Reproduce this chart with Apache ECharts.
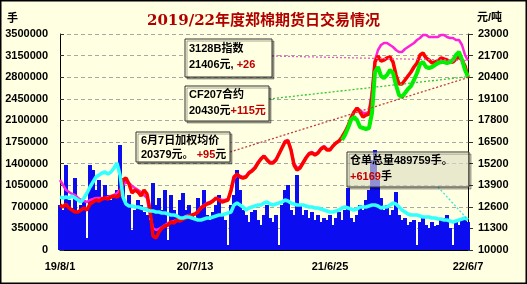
<!DOCTYPE html>
<html><head><meta charset="utf-8">
<script src="https://cdn.jsdelivr.net/npm/echarts/dist/echarts.min.js"></script>
<style>html,body{margin:0;padding:0;background:#ffffe1;}#c{width:527px;height:284px;}</style>
</head><body><div id="c"></div>
<script>
const tickLabels = ['19/8/1','20/7/13','21/6/25','22/6/7'];
const tickIndex = [0,45,90,136];
const leftAxis = {min:0, max:3500000, step:350000};
const rightAxis = {min:10000, max:23000, step:1300};

// 成交量 (bars, 手)
const volume = [729200,648200,1377300,810200,680600,1166700,615800,729200,810200,194400,
1377300,1296300,972200,1134300,810200,1053300,891200,810200,842600,972200,
1701400,1166700,729200,891200,324100,648200,810200,729200,615800,567100,
486100,1085700,729200,842600,648200,972200,162000,891200,648200,567100,
810200,923600,648200,729200,567100,518500,842600,648200,972200,567100,
486100,615800,729200,891200,567100,486100,81000,729200,891200,1296300,
972200,648200,567100,453700,615800,648200,486100,405100,567100,729200,
518500,453700,567100,81000,729200,972200,1053300,648200,567100,1215300,
729200,567100,648200,518500,615800,486100,567100,453700,518500,486100,
567100,405100,518500,615800,486100,648200,1004600,518500,453700,567100,
729200,648200,810200,972200,1458400,1620400,1134300,842600,648200,729200,
567100,648200,939800,567100,486100,518500,405100,453700,486100,81000,
453700,518500,405100,356500,453700,388900,405100,486100,518500,567100,
356500,81000,453700,405100,486100,518500,453700];

// 仓单总量 (cyan, 手)
const warehouse = [858800,842600,858800,842600,875000,842600,810200,777800,842600,923600,
1020800,1101900,1182900,1215300,1247700,1263900,1231500,1263900,1328700,1409700,
1215300,858800,745400,713000,713000,696800,696800,680600,664400,648200,
632000,632000,615800,615800,599500,599500,583300,567100,567100,550900,
518500,518500,534700,534700,518500,502300,486100,486100,502300,518500,
518500,534700,550900,567100,567100,583300,599500,615800,729200,761600,
729200,696800,648200,680600,696800,713000,729200,729200,761600,777800,
745400,729200,745400,761600,777800,810200,794000,761600,745400,729200,
729200,729200,713000,696800,696800,680600,680600,664400,648200,632000,
615800,615800,632000,648200,680600,696800,680600,664400,648200,664400,
696800,696800,696800,713000,729200,729200,713000,680600,696800,696800,
729200,761600,745400,696800,648200,615800,583300,567100,567100,567100,
550900,534700,534700,534700,518500,518500,502300,502300,486100,486100,
469900,453700,469900,486100,502300,518500,489759];

// 加权均价 (red, 元/吨)
const avgPrice = [12708,12588,12769,12528,12407,12287,12287,12407,12528,12407,
12769,12889,13009,12949,13069,13130,13069,13190,13250,13190,
13310,14213,14333,13972,13431,13611,13491,13250,13611,13370,
12407,10843,10722,11083,11324,11444,11505,11685,11625,11806,
11745,11866,11926,12046,12106,12167,12287,12528,12648,12769,
12829,12949,13130,13009,12889,12949,13009,13611,14394,14574,
14394,14333,14394,14634,14755,14935,15236,15477,15657,15417,
15236,15236,15417,15778,16139,16500,16560,16019,15116,14815,
14935,15236,15537,15778,15838,15718,15838,16079,16199,16019,
16019,16259,16440,16560,16801,17102,17463,17944,18306,18546,
18306,18005,18125,18185,19208,21315,21676,21375,21435,21556,
21616,21315,20532,19991,19991,20231,20472,20713,21014,21255,
21736,21856,21556,21435,21255,21315,21375,21556,21495,21435,
21315,21315,21495,21616,21435,21074,20379];

// 3128B指数 (magenta)
const index3128 = [14213,13912,13611,13491,13370,13310,13130,13009,12949,12889,
13009,13069,13130,13130,13130,13130,13190,13250,13310,13431,
13611,13912,14093,14032,13852,13731,13611,13491,13310,13130,
12106,11324,11204,11264,11384,11505,11625,11685,11745,11806,
11866,11926,12046,12106,12106,12167,12347,12588,12708,12829,
12889,13009,13069,13069,13009,13009,13069,13491,14273,14514,
14454,14394,14454,14694,14815,14995,15296,15537,15657,15477,
15296,15296,15477,15838,16199,16560,16620,16079,15236,14935,
14995,15296,15597,15838,15898,15778,15898,16139,16259,16079,
16079,16259,16440,16560,16741,17042,17403,17884,18306,18546,
18426,18245,18245,18306,19630,21435,22037,22338,22458,22458,
22338,22218,22037,21917,21917,22097,22218,22338,22458,22639,
22759,22940,22940,22819,22819,22819,22819,22940,22940,22819,
22759,22759,22639,22639,22338,21736,21406];

// CF207合约 (green), starts trading at category index cf207Start
const cf207Start = 94;
const cf207 = [16620,16921,17343,17824,18005,17824,17403,17343,17282,17343,
18245,20713,21014,20472,20352,20532,20833,20653,19931,19329,
19208,19449,19690,19870,20231,20653,21194,21315,21014,20954,
21014,21134,21255,21315,21315,21255,21315,21435,21736,21917,
21435,20833,20430];

const N = avgPrice.length;
const categories = [];
for (let i = 0; i < N; i++) {
  const k = tickIndex.indexOf(i);
  categories.push(k >= 0 ? tickLabels[k] : String(i));
}
const cf207Data = [];
for (let i = 0; i < N; i++) cf207Data.push(i < cf207Start ? null : cf207[i - cf207Start]);

const BG = '#ffffe1';
const labelFont = {color:'#000', fontWeight:'bold', fontSize:11, fontFamily:'"Liberation Sans", Arial, sans-serif'};

const chart = echarts.init(document.getElementById('c'), null, {renderer:'canvas'});
const option = {
  animation: false,
  backgroundColor: BG,
  title: {
    text: '2019/22年度郑棉期货日交易情况',
    left: 'center', top: 8,
    textStyle: {color:'#b00000', fontSize:15, fontWeight:'bold', fontFamily:'"DejaVu Serif", "Noto Sans CJK SC", serif', lineHeight:17}
  },
  grid: {left:60, right:59, top:34, bottom:34, containLabel:false, outerBoundsMode:'none'},
  xAxis: {
    type:'category', data:categories, boundaryGap:false,
    axisLine:{show:true, lineStyle:{color:'#000', width:1}},
    axisTick:{show:false},
    splitLine:{show:false},
    axisLabel:Object.assign({margin:11, interval:(i)=>tickIndex.indexOf(i) >= 0,
      formatter:(v)=>v}, labelFont)
  },
  yAxis: [{
    type:'value', min:leftAxis.min, max:leftAxis.max, interval:leftAxis.step, position:'left',
    axisLine:{show:true, lineStyle:{color:'#000', width:1}},
    axisTick:{show:true, inside:true, length:4, lineStyle:{color:'#333'}},
    splitLine:{show:true, lineStyle:{color:'#a8a8a8', type:[4,3], width:1}},
    axisLabel:Object.assign({margin:12, formatter:(v)=>String(Math.round(v))}, labelFont)
  },{
    type:'value', min:rightAxis.min, max:rightAxis.max, interval:rightAxis.step, position:'right',
    axisLine:{show:true, lineStyle:{color:'#000', width:1}},
    axisTick:{show:true, inside:false, length:5, lineStyle:{color:'#333'}},
    splitLine:{show:false},
    axisLabel:Object.assign({margin:10, formatter:(v)=>String(Math.round(v))}, labelFont)
  }],
  series: [
    {type:'bar', name:'成交量', yAxisIndex:0, data:volume, barWidth:4, barMinWidth:3, barGap:'0%',
     itemStyle:{color:'#0c0cf0'}, z:1},
    {type:'line', name:'3128B指数', yAxisIndex:1, data:index3128, showSymbol:false, symbol:'none',
     lineStyle:{color:'#ff22dd', width:2.5}, z:3},
    {type:'line', name:'加权均价', yAxisIndex:1, data:avgPrice, showSymbol:false, symbol:'none',
     lineStyle:{color:'#ff0000', width:3.5}, z:4},
    {type:'line', name:'CF207', yAxisIndex:1, data:cf207Data, showSymbol:false, symbol:'none', connectNulls:false,
     lineStyle:{color:'#00f000', width:4}, z:5},
    {type:'line', name:'仓单总量', yAxisIndex:0, data:warehouse, showSymbol:false, symbol:'none',
     lineStyle:{color:'#33ffff', width:3.5}, z:6}
  ]
};
chart.setOption(option);

const last = N - 1;
const pxR = (v) => chart.convertToPixel({xAxisIndex:0, yAxisIndex:1}, [last, v]);
const pxL = (v) => chart.convertToPixel({xAxisIndex:0, yAxisIndex:0}, [last, v]);
const endMag = pxR(index3128[last]);
const endGreen = pxR(cf207[cf207.length-1]);
const endRed = pxR(avgPrice[last]);
const endCyan = pxL(warehouse[last]);

const boxFont = 'bold 11px "Liberation Sans", "Noto Sans CJK SC", sans-serif';
const rich = {
  k:{fill:'#000', font:boxFont},
  r:{fill:'#c00000', font:boxFont}
};
function leader(x, y, end, color) {
  return {type:'line', z:100, shape:{x1:x, y1:y, x2:end[0], y2:end[1]},
    style:{stroke:color, lineWidth:1.3, lineDash:[2,2]}};
}
function box(x, y, w, h, fill) {
  return {type:'rect', z:101, shape:{x:x, y:y, width:w, height:h},
    style:{fill:fill || BG, stroke:'#333', lineWidth:1, shadowColor:'rgba(0,0,0,0.35)', shadowOffsetX:2, shadowOffsetY:2}};
}
function txt(x, y, t) {
  return {type:'text', z:102, style:{x:x, y:y, text:t, font:boxFont, fill:'#000', rich:rich, textAlign:'left', textVerticalAlign:'middle'}};
}
const elements = [
  leader(272, 56, endMag, '#e060c0'),
  leader(269, 99, endGreen, '#30c830'),
  leader(230, 152, endRed, '#c04040'),
  leader(438, 187, endCyan, '#40e0e0'),
  box(185, 39, 87, 38),
  txt(189, 48.5, '{k|3128B指数}'),
  txt(189, 65, '{k|21406元, }{r|+26}'),
  box(185, 86, 84, 35),
  txt(189, 95, '{k|CF207合约}'),
  txt(189, 111, '{k|20430元}{r|+115元}'),
  box(136, 132, 94, 30),
  txt(141, 141, '{k|6月7日加权均价}'),
  txt(141, 155, '{k|20379元。 }{r|+95}{k|元}'),
  box(347, 152, 122, 35, 'rgba(255,255,225,0.55)'),
  txt(350, 161, '{k|仓单总量489759手。}'),
  txt(350, 177, '{r|+6169}{k|手}'),
  {type:'text', z:102, style:{x:7, y:18, text:'手', font:'bold 11px "Noto Sans CJK SC", sans-serif', fill:'#000', textAlign:'left', textVerticalAlign:'middle'}},
  {type:'text', z:102, style:{x:477, y:18, text:'元/吨', font:'bold 11px "Liberation Sans", "Noto Sans CJK SC", sans-serif', fill:'#000', textAlign:'left', textVerticalAlign:'middle'}},
  {type:'rect', z:103, shape:{x:0.75, y:0.75, width:525.5, height:282.5}, style:{fill:'none', stroke:'#000', lineWidth:1.5}}
];
chart.setOption({graphic: elements});
</script>
</body></html>
